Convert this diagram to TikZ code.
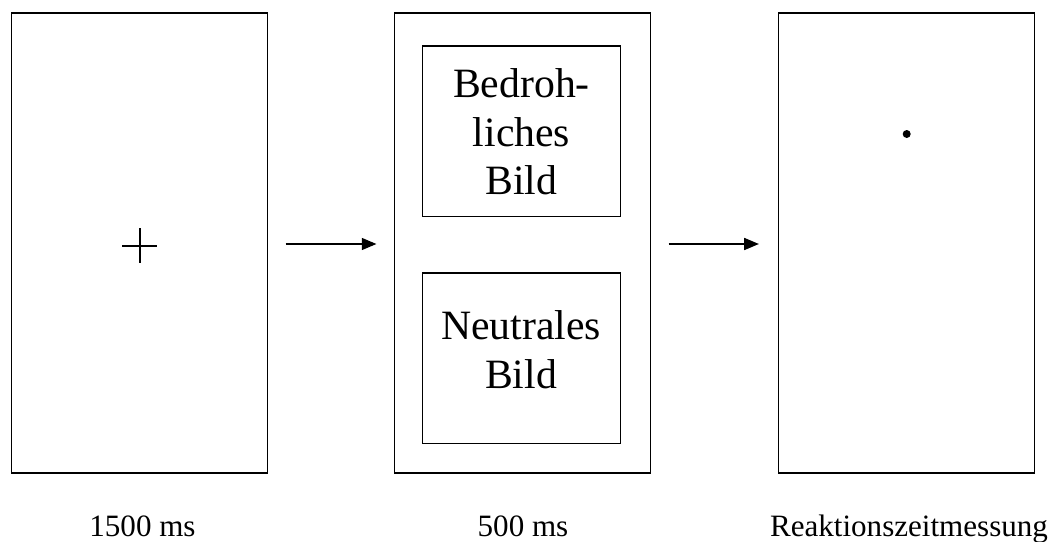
\documentclass[tikz,border=0pt]{standalone}
\usepackage{fontspec}
\setmainfont{Liberation Serif}
\usetikzlibrary{arrows.meta}
\begin{document}
\begin{tikzpicture}[x=0.75pt,y=-0.75pt,
  screen/.style={draw,line width=1.1pt,minimum width=192pt,minimum height=345pt,inner sep=0pt},
  picbox/.style={draw,line width=1.1pt,minimum width=148.8pt,minimum height=127.8pt,inner sep=0pt},
  pictext/.style={align=center,inner sep=0pt,font=\fontsize{31.3}{36.5}\selectfont},
  caption/.style={anchor=base,inner sep=0pt,font=\fontsize{23.3}{28}\selectfont},
  flow/.style={line width=1.1pt,-{Triangle[length=11pt,width=9pt]}}]
\useasboundingbox (0,0) rectangle (1060,542);
\node[screen] (left) at (139.5,243.2) {};
\node[screen] (mid) at (522.5,243.2) {};
\node[screen] (right) at (906.3,243.2) {};
\node[picbox] (threat) at (521.5,131.3) {};
\node[picbox] (neutral) at (521.5,358.3) {};
\node[pictext] (threattext) at (521.5,131.8) {Bedroh-\\liches\\Bild};
\node[pictext] (neutraltext) at (521,349.8) {Neutrales\\Bild};
\draw[line width=1.5pt] (122,245.5) -- (157,245.5) (139.5,228) -- (139.5,263);
\fill (906.7,134) circle[radius=3pt];
\draw[flow,shorten <=13pt,shorten >=13pt] ([yshift=-0.6pt]left.east) -- ([yshift=-0.6pt]mid.west);
\draw[flow,shorten <=13pt,shorten >=14pt] ([yshift=-0.6pt]mid.east) -- ([yshift=-0.6pt]right.west);
\node[caption] (t1) at (142.5,536) {1500 ms};
\node[caption] (t2) at (523,536) {500 ms};
\node[caption] (t3) at (909,536) {Reaktionszeitmessung};
\end{tikzpicture}
\end{document}
